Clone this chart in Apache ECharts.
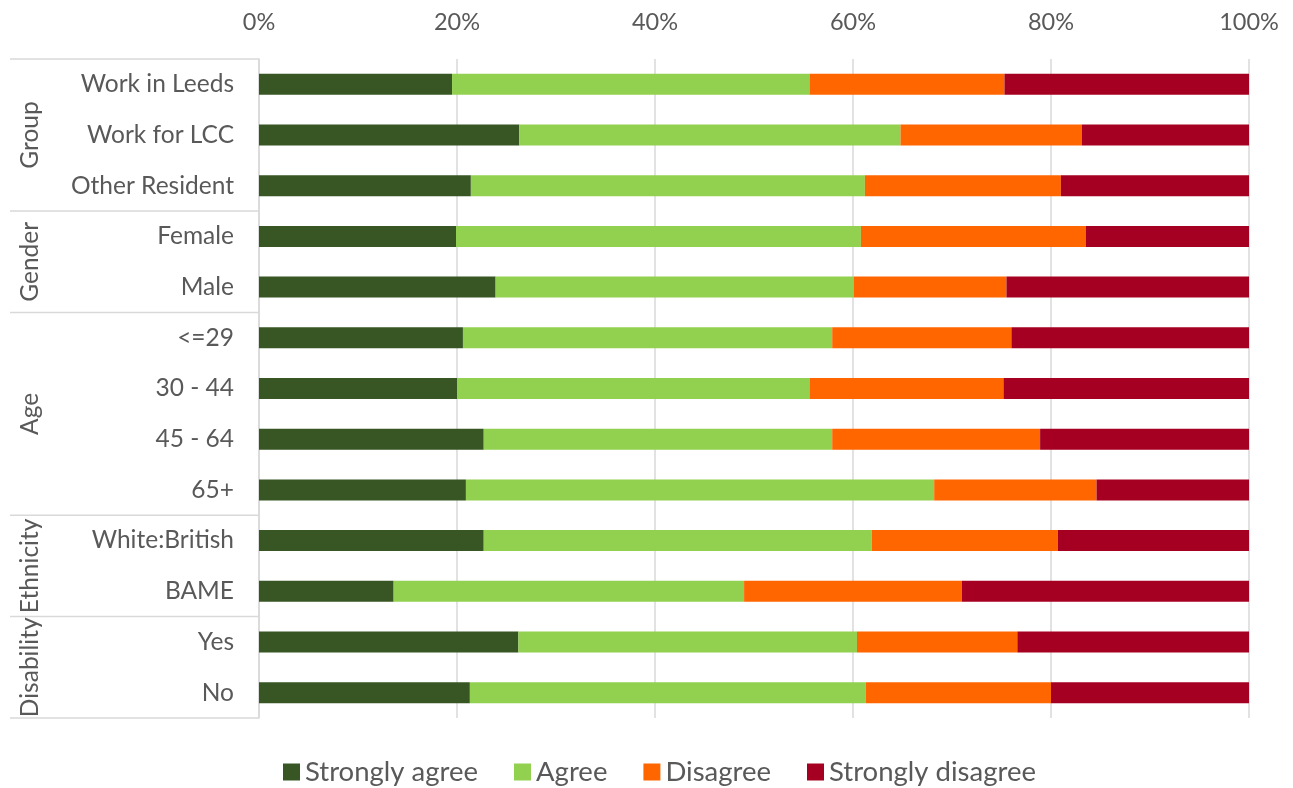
<!DOCTYPE html>
<html><head><meta charset="utf-8">
<script src="https://cdn.jsdelivr.net/npm/echarts@6/dist/echarts.min.js"></script>
<style>html,body{margin:0;padding:0;background:#fff}#c{width:1293px;height:788px}</style>
</head><body><div id="c"></div>
<script>
const categories = ['Work in Leeds','Work for LCC','Other Resident','Female','Male','<=29','30 - 44','45 - 64','65+','White:British','BAME','Yes','No'];
const groupNames = ['Group','Gender','Age','Ethnicity','Disability'];
const groupSizes = [3,2,4,2,2];
const seriesNames = ['Strongly agree','Agree','Disagree','Strongly disagree'];
const stronglyAgree = [19.5,26.3,21.4,19.9,23.9,20.6,20.0,22.7,20.9,22.7,13.6,26.2,21.3];
const agree = [36.1,38.5,39.8,40.9,36.2,37.3,35.6,35.2,47.3,39.2,35.4,34.2,40.0];
const disagree = [19.7,18.3,19.8,22.7,15.4,18.1,19.6,21.0,16.4,18.8,22.0,16.2,18.7];
const stronglyDisagree = [24.7,16.9,19.0,16.5,24.5,24.0,24.8,21.1,15.4,19.3,29.0,23.4,20.0];
const xTicks = [0,20,40,60,80,100];

const colors = ['#375623','#92D050','#FF6600','#A50021'];
const TEXT = '#595959';
const GRID = '#D9D9D9';
const FONT = 'Lato';
const ctx = document.createElement('canvas').getContext('2d');
function fit(text, target){ ctx.font = '100px ' + FONT; return Math.round(100 * target / ctx.measureText(text).width * 2) / 2; }
const labelSize = fit('Other Resident', 163);
const tickSize = fit('100%', 60);
const legendSize = fit('Strongly disagree', 208);

const values = [stronglyAgree, agree, disagree, stronglyDisagree];
const chart = echarts.init(document.getElementById('c'));
const option = {
  animation: false,
  backgroundColor: '#fff',
  textStyle: { fontFamily: FONT },
  grid: { left: 259, right: 44, top: 59, bottom: 70, containLabel: false },
  legend: {
    bottom: 2, left: 283, padding: 0, icon: 'rect', itemWidth: 17, itemHeight: 17, itemGap: 36,
    textStyle: { color: TEXT, fontSize: legendSize, fontFamily: FONT },
    data: seriesNames
  },
  xAxis: {
    type: 'value', position: 'top', min: xTicks[0], max: xTicks[xTicks.length-1], interval: xTicks[1]-xTicks[0],
    axisLine: { show: false }, axisTick: { show: false },
    axisLabel: { formatter: '{value}%', color: TEXT, fontSize: tickSize, fontFamily: FONT, margin: 25 },
    splitLine: { show: true, lineStyle: { color: GRID, width: 1.5 } }
  },
  yAxis: {
    type: 'category', inverse: true, data: categories,
    axisLine: { show: true, lineStyle: { color: GRID, width: 1.5 } },
    axisTick: { show: false },
    axisLabel: { color: TEXT, fontSize: labelSize, fontFamily: FONT, margin: 25 }
  },
  series: seriesNames.map((n, i) => ({
    name: n, type: 'bar', stack: 'total', data: values[i], barWidth: 21,
    itemStyle: { color: colors[i] }
  }))
};
chart.setOption(option);

function drawGroups(){
  const y = i => chart.convertToPixel({ yAxisIndex: 0 }, categories[i]);
  const band = y(1) - y(0);
  const x0 = chart.convertToPixel({ xAxisIndex: 0 }, xTicks[0]);
  const els = [];
  let start = 0;
  const topY = y(0) - band / 2;
  els.push({ type: 'line', shape: { x1: 10, y1: topY, x2: x0, y2: topY }, style: { stroke: GRID, lineWidth: 1.5 }, silent: true });
  groupSizes.forEach((n, g) => {
    const top = y(start) - band / 2, bottom = y(start + n - 1) + band / 2;
    els.push({ type: 'text', x: 30, y: (top + bottom) / 2, rotation: Math.PI / 2,
      style: { text: groupNames[g], fill: TEXT, fontSize: labelSize, fontFamily: FONT, align: 'center', verticalAlign: 'middle' }, silent: true });
    els.push({ type: 'line', shape: { x1: 10, y1: bottom, x2: x0, y2: bottom }, style: { stroke: GRID, lineWidth: 1.5 }, silent: true });
    start += n;
  });
  chart.setOption({ graphic: { elements: els } });
}
drawGroups();
</script>
</body></html>
